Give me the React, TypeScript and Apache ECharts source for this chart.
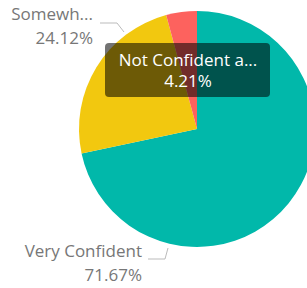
import React, { useEffect, useRef } from "react";
import * as echarts from "echarts";

const categories = ["Very Confident", "Somewhat Confident", "Not Confident at all"];
const shownNames = ["Very Confident", "Somewh...", "Not Confident a..."];
const values = [71.67, 24.12, 4.21];
const colors = ["#01B8AA", "#F2C80F", "#FD625E"];

const FONT = "'Open Sans', 'Noto Sans', sans-serif";

// label placement (right edge x, middle y) and leader lines
const labelSpots: Record<number, { x: number; y: number; line: number[][] }> = {
  0: { x: 142, y: 262, line: [[168, 248], [165, 259], [148, 259]] },
  1: { x: 93, y: 25, line: [[124, 32], [117, 23], [100, 23]] },
};

export default function App() {
  const ref = useRef<HTMLDivElement>(null);
  useEffect(() => {
    document.body.style.margin = "0";
    const chart = echarts.init(ref.current!, null, { renderer: "svg" });
    chart.setOption({
      animation: false,
      backgroundColor: "#ffffff",
      series: [
        {
          type: "pie",
          center: [197, 129],
          radius: 118,
          startAngle: 90,
          clockwise: true,
          avoidLabelOverlap: false,
          data: categories.map((c, i) => ({
            name: c,
            value: values[i],
            itemStyle: { color: colors[i] },
            label: { show: i !== 2 },
            labelLine: { show: i !== 2 },
          })),
          label: {
            position: "outside",
            color: "#777777",
            fontFamily: FONT,
            fontSize: 17,
            lineHeight: 24,
            align: "right",
            formatter: (p: any) => `${shownNames[p.dataIndex]}\n${values[p.dataIndex].toFixed(2)}%`,
          },
          labelLine: {
            lineStyle: { color: "#BBBBBB", width: 1 },
          },
          labelLayout: (p: any) => {
            const s = labelSpots[p.dataIndex];
            if (!s) return {};
            return {
              x: s.x,
              y: s.y,
              align: "right",
              verticalAlign: "middle",
              labelLinePoints: s.line,
            };
          },
        },
      ],
      graphic: [
        {
          type: "group",
          left: 105,
          top: 43,
          z: 100,
          zlevel: 1,
          children: [
            {
              type: "rect",
              z: 100,
              shape: { x: 0, y: 0, width: 165, height: 54, r: 4 },
              style: { fill: "rgba(0,0,0,0.55)" },
            },
            {
              type: "text",
              z: 101,
              x: 83,
              y: 27,
              style: {
                text: `${shownNames[2]}\n${values[2].toFixed(2)}%`,
                fill: "#ffffff",
                font: `17px ${FONT}`,
                align: "center",
                verticalAlign: "middle",
                lineHeight: 21,
              },
            },
          ],
        },
      ],
    });
    return () => chart.dispose();
  }, []);
  return <div ref={ref} style={{ width: 307, height: 288 }} />;
}
